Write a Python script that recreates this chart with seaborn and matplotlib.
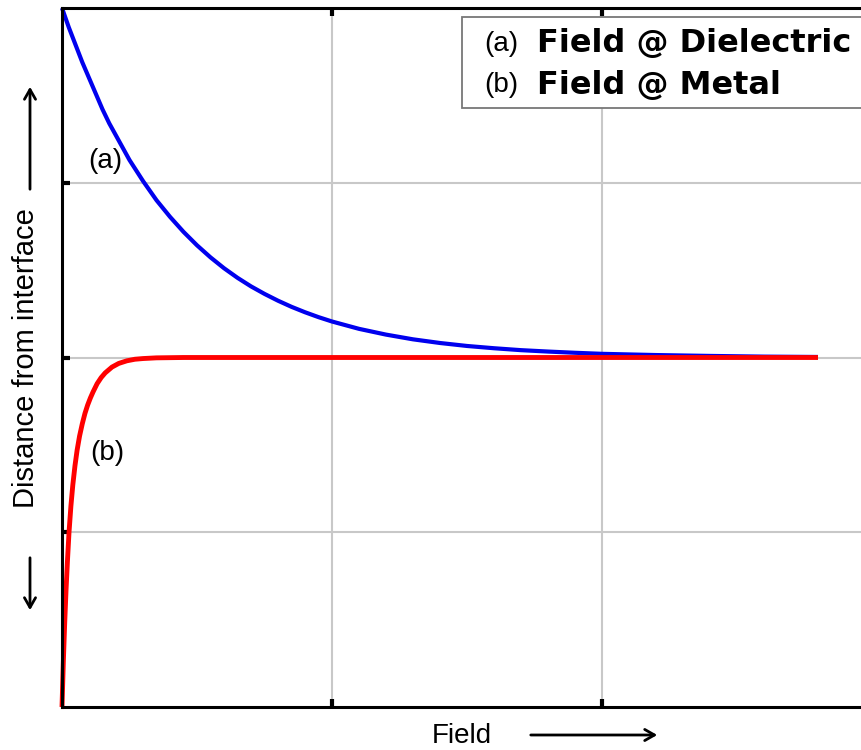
import numpy as np
import pandas as pd
import matplotlib
matplotlib.use("Agg")
import matplotlib.pyplot as plt
import seaborn as sns
from matplotlib.patches import Rectangle, FancyArrowPatch

# ---- data ----
blue_x = [0.0, 0.025, 0.05, 0.075, 0.1, 0.125, 0.15, 0.175, 0.2, 0.225, 0.25, 0.275, 0.3, 0.35, 0.4,
          0.45, 0.5, 0.55, 0.6, 0.65, 0.7, 0.75, 0.8, 0.85, 0.9, 0.95, 1.0, 1.1, 1.2, 1.3, 1.4,
          1.5, 1.6, 1.7, 1.8, 1.9, 2.0, 2.2, 2.4, 2.6, 2.8]
blue_y = [2.0, 1.89, 1.79, 1.69, 1.60, 1.51, 1.42, 1.34, 1.27, 1.20, 1.13, 1.07, 1.01, 0.90, 0.805,
          0.719, 0.642, 0.573, 0.511, 0.456, 0.407, 0.364, 0.325, 0.290, 0.259, 0.231, 0.206, 0.164, 0.131,
          0.104, 0.083, 0.066, 0.053, 0.042, 0.034, 0.027, 0.021, 0.014, 0.009, 0.005, 0.003]
red_x = [0.0, 0.005, 0.01, 0.015, 0.02, 0.026, 0.033, 0.04, 0.048, 0.056, 0.065, 0.075, 0.085, 0.095,
         0.105, 0.115, 0.13, 0.145, 0.16, 0.185, 0.21, 0.24, 0.27, 0.3, 0.35, 0.45, 0.6, 1.0, 1.5, 2.0, 2.5, 2.8]
red_y = [-2.0, -1.74, -1.52, -1.33, -1.17, -1.0, -0.85, -0.73, -0.62, -0.53, -0.45, -0.38, -0.32, -0.272,
         -0.232, -0.197, -0.15, -0.115, -0.088, -0.055, -0.034, -0.019, -0.01, -0.006, -0.002, 0, 0, 0, 0, 0, 0, 0]
grid_x = [1, 2, 3]
grid_y = [-1, 0, 1]
legend_tags = ["(a)", "(b)"]
legend_names = ["Field @ Dielectric", "Field @ Metal"]

sns.set_theme(style="white")
plt.rcParams['font.family'] = ['Liberation Sans', 'DejaVu Sans']
plt.rcParams['text.color'] = 'black'

W, H = 862, 750
fig = plt.figure(figsize=(W / 100, H / 100), dpi=100)

def fx(px):
    return px / W

def fy(py):
    return 1 - py / H

x0, x3 = 62, 872
ytop, ybot = 8, 707
ax = fig.add_axes([fx(x0), fy(ybot), fx(x3) - fx(x0), fy(ytop) - fy(ybot)])

df = pd.concat([
    pd.DataFrame({"field": blue_x, "dist": blue_y, "curve": "(a)"}),
    pd.DataFrame({"field": red_x, "dist": red_y, "curve": "(b)"}),
])
sns.lineplot(data=df, x="field", y="dist", hue="curve", palette={"(a)": "#0000ee", "(b)": "#ff0000"},
             sort=False, estimator=None, legend=False, ax=ax)
lines = ax.get_lines()
lines[0].set_linewidth(3.0)
lines[1].set_linewidth(3.5)
for l in lines:
    l.set_solid_capstyle('butt')
    l.set_solid_joinstyle('round')
    l.set_clip_on(False)

ax.set_xlim(0, 3)
ax.set_ylim(-2, 2)
ax.set_xticks(grid_x)
ax.set_yticks(grid_y)
ax.grid(True, color="#c8c8c8", linewidth=1.5)
ax.set_axisbelow(True)
ax.tick_params(direction='in', length=6, width=3, color='black', top=True, right=True,
               bottom=True, left=True, labelbottom=False, labelleft=False)
for s in ax.spines.values():
    s.set_color('black')
    s.set_linewidth(2.2)
ax.set_xlabel("")
ax.set_ylabel("")

# inline labels
ax.text((88 - x0) / 270, (357 - 160) / 175, "(a)", fontsize=20, ha='left', va='center', color='black')
ax.text((90 - x0) / 270, (357 - 453) / 175, "(b)", fontsize=20, ha='left', va='center', color='black')

# legend box
fig.patches.append(Rectangle((fx(462), fy(108)), fx(900) - fx(462), fy(17) - fy(108),
                             transform=fig.transFigure, facecolor='white', edgecolor='#777777',
                             linewidth=1.3, zorder=5))
for i, (tag, name) in enumerate(zip(legend_tags, legend_names)):
    yy = fy(44 + i * 41)
    fig.text(fx(484), yy, tag, fontsize=20, ha='left', va='center', zorder=6, color='black')
    fig.text(fx(537), yy, name, fontsize=23, fontweight='bold', ha='left', va='center', zorder=6,
             color='black', family=['DejaVu Sans'])

# axis labels with arrows
fig.text(fx(462), fy(743), "Field", fontsize=20, ha='center', va='baseline', color='black')
arrow_kw = dict(transform=fig.transFigure, arrowstyle='->,head_length=7,head_width=4',
                color='black', linewidth=2)
fig.add_artist(FancyArrowPatch((fx(528), fy(735)), (fx(660), fy(735)), **arrow_kw))
fig.text(fx(26), fy(358), "Distance from interface", fontsize=21, rotation=90, ha='center', va='center',
         color='black')
fig.add_artist(FancyArrowPatch((fx(30), fy(192)), (fx(30), fy(84)), **arrow_kw))
fig.add_artist(FancyArrowPatch((fx(30), fy(555)), (fx(30), fy(613)), **arrow_kw))

fig.savefig("out.png", dpi=100)
